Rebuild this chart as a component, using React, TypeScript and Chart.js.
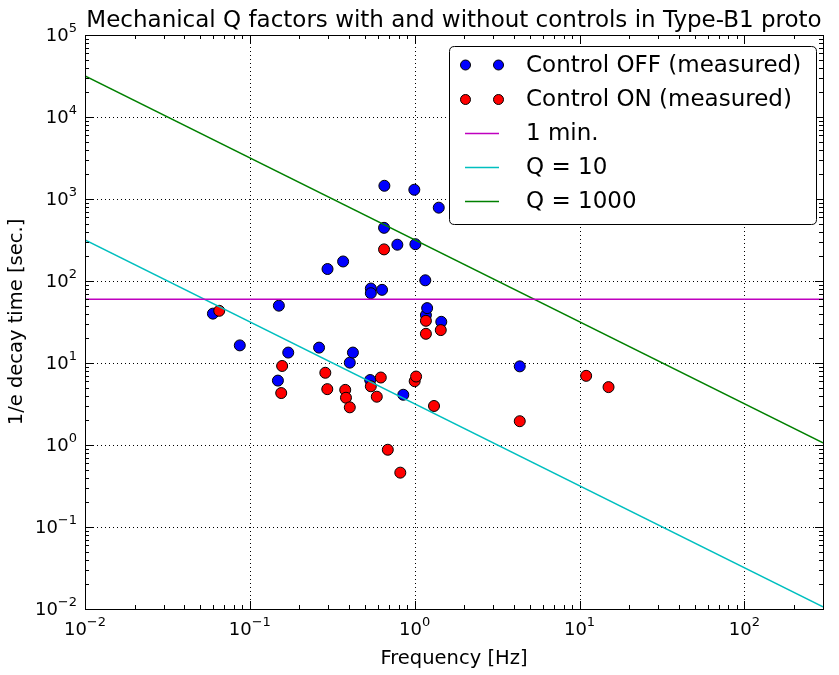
import React, { useEffect, useRef } from "react";
import { Chart, registerables } from "chart.js";
Chart.register(...registerables);

// Control OFF (measured)
const offFreq = [0.0597, 0.0869, 0.148, 0.150, 0.171, 0.263, 0.296, 0.368, 0.404, 0.422, 0.537, 0.542, 0.542, 0.634, 0.652, 0.655, 0.785, 0.853, 0.995, 1.01, 1.16, 1.17, 1.19, 1.40, 1.45, 4.34];
const offTau = [40, 16.4, 6.1, 50, 13.4, 15.4, 140, 173, 10.1, 13.4, 6.2, 81, 71, 78, 445, 1450, 277, 4.1, 1297, 281, 102, 38.4, 46.7, 784, 31.8, 9.1];
// Control ON (measured)
const onFreq = [0.0652, 0.155, 0.157, 0.287, 0.295, 0.379, 0.383, 0.404, 0.542, 0.589, 0.623, 0.652, 0.687, 0.818, 1.0, 1.02, 1.17, 1.17, 1.31, 1.44, 4.34, 10.97, 15.0];
const onTau = [43.3, 4.3, 9.2, 7.6, 4.8, 4.7, 3.77, 2.88, 5.2, 3.88, 6.65, 243, 0.875, 0.46, 6.0, 6.84, 32.7, 22.7, 2.99, 25.2, 1.95, 6.97, 5.08];
// Reference lines (end points)
const lineFreq = [0.01, 300];
const oneMinTau = [60, 60];
const q10Tau = [318, 0.0106];
const q1000Tau = [31800, 1.06];

const xTicks = [0.01, 0.1, 1, 10, 100];
const xTickExp = ["\u22122", "\u22121", "0", "1", "2"];
const yTicks = [1e-2, 1e-1, 1, 10, 100, 1e3, 1e4, 1e5];
const yTickExp = ["\u22122", "\u22121", "0", "1", "2", "3", "4", "5"];

const titleText = "Mechanical Q factors with and without controls in Type-B1 proto";
const xLabel = "Frequency [Hz]";
const yLabel = "1/e decay time [sec.]";
const legendLabels = ["Control OFF (measured)", "Control ON (measured)", "1 min.", "Q = 10", "Q = 1000"];

const FONT = "'DejaVu Sans', 'Liberation Sans', sans-serif";
const C_OFF = "#0000ff";
const C_ON = "#ff0000";
const C_MIN = "#bf00bf";
const C_Q10 = "#00bfbf";
const C_Q1000 = "#008000";

function pts(xs: number[], ys: number[]) {
  return xs.map((x, i) => ({ x, y: ys[i] }));
}

function minorValues(min: number, max: number) {
  const out: number[] = [];
  for (let e = Math.floor(Math.log10(min)); e <= Math.ceil(Math.log10(max)); e++) {
    for (let k = 1; k <= 9; k++) {
      const v = k * Math.pow(10, e);
      if (v >= min * 0.9999 && v <= max * 1.0001) out.push(v);
    }
  }
  return out;
}

const decorPlugin = {
  id: "decor",
  beforeDatasetsDraw(chart: any) {
    const { ctx, chartArea: a, scales } = chart;
    const xs = scales.x, ys = scales.y;
    ctx.save();
    ctx.strokeStyle = "#000";
    ctx.lineWidth = 1;
    ctx.setLineDash([1, 3]);
    for (const v of xTicks) {
      const px = Math.round(xs.getPixelForValue(v)) + 0.5;
      if (px <= a.left + 1 || px >= a.right - 1) continue;
      ctx.beginPath();
      ctx.moveTo(px, a.top);
      ctx.lineTo(px, a.bottom);
      ctx.stroke();
    }
    for (const v of yTicks) {
      const py = Math.round(ys.getPixelForValue(v)) + 0.5;
      if (py <= a.top + 1 || py >= a.bottom - 1) continue;
      ctx.beginPath();
      ctx.moveTo(a.left, py);
      ctx.lineTo(a.right, py);
      ctx.stroke();
    }
    ctx.restore();
  },
  afterDatasetsDraw(chart: any) {
    const { ctx, chartArea: a, scales } = chart;
    const xs = scales.x, ys = scales.y;
    ctx.save();
    ctx.setLineDash([]);
    ctx.strokeStyle = "#000";
    ctx.lineWidth = 1;
    // ticks inside on all sides
    const majX = new Set(xTicks.map((v) => v.toPrecision(6)));
    for (const v of minorValues(0.01, 300)) {
      const px = Math.round(xs.getPixelForValue(v)) + 0.5;
      const len = majX.has(v.toPrecision(6)) ? 8 : 4;
      ctx.beginPath();
      ctx.moveTo(px, a.bottom);
      ctx.lineTo(px, a.bottom - len);
      ctx.moveTo(px, a.top);
      ctx.lineTo(px, a.top + len);
      ctx.stroke();
    }
    const majY = new Set(yTicks.map((v) => v.toPrecision(6)));
    for (const v of minorValues(0.01, 1e5)) {
      const py = Math.round(ys.getPixelForValue(v)) + 0.5;
      const len = majY.has(v.toPrecision(6)) ? 8 : 4;
      ctx.beginPath();
      ctx.moveTo(a.left, py);
      ctx.lineTo(a.left + len, py);
      ctx.moveTo(a.right, py);
      ctx.lineTo(a.right - len, py);
      ctx.stroke();
    }
    // frame
    ctx.strokeRect(Math.round(a.left) + 0.5, Math.round(a.top) + 0.5, Math.round(a.right - a.left), Math.round(a.bottom - a.top));

    ctx.fillStyle = "#000";
    const baseFont = "18px " + FONT;
    const expFont = "13px " + FONT;
    // x tick labels
    ctx.textBaseline = "alphabetic";
    ctx.textAlign = "left";
    xTicks.forEach((v, i) => {
      const px = xs.getPixelForValue(v);
      ctx.font = baseFont;
      const w1 = ctx.measureText("10").width;
      ctx.font = expFont;
      const w2 = ctx.measureText(xTickExp[i]).width;
      const start = px - (w1 + w2) / 2;
      ctx.font = baseFont;
      ctx.fillText("10", start, a.bottom + 26);
      ctx.font = expFont;
      ctx.fillText(xTickExp[i], start + w1, a.bottom + 17);
    });
    // y tick labels
    yTicks.forEach((v, i) => {
      const py = ys.getPixelForValue(v);
      ctx.font = baseFont;
      const w1 = ctx.measureText("10").width;
      ctx.font = expFont;
      const w2 = ctx.measureText(yTickExp[i]).width;
      const right = a.left - 8;
      const start = right - w1 - w2;
      ctx.font = baseFont;
      ctx.fillText("10", start, py + 6);
      ctx.font = expFont;
      ctx.fillText(yTickExp[i], start + w1, py - 3);
    });
    // axis titles
    ctx.font = "19.5px " + FONT;
    ctx.textAlign = "center";
    ctx.textBaseline = "alphabetic";
    ctx.fillText(xLabel, (a.left + a.right) / 2, 664);
    ctx.save();
    ctx.translate(17, (a.top + a.bottom) / 2);
    ctx.rotate(-Math.PI / 2);
    ctx.textBaseline = "middle";
    ctx.fillText(yLabel, 0, 0);
    ctx.restore();
    // title
    ctx.font = "23px " + FONT;
    ctx.textAlign = "center";
    ctx.textBaseline = "alphabetic";
    ctx.fillText(titleText, (a.left + a.right) / 2, 27);

    // legend
    const L = 449.5, T = 46.5, R = 816.5, B = 224.5, rad = 5;
    ctx.beginPath();
    ctx.moveTo(L + rad, T);
    ctx.lineTo(R - rad, T);
    ctx.quadraticCurveTo(R, T, R, T + rad);
    ctx.lineTo(R, B - rad);
    ctx.quadraticCurveTo(R, B, R - rad, B);
    ctx.lineTo(L + rad, B);
    ctx.quadraticCurveTo(L, B, L, B - rad);
    ctx.lineTo(L, T + rad);
    ctx.quadraticCurveTo(L, T, L + rad, T);
    ctx.closePath();
    ctx.fillStyle = "#fff";
    ctx.fill();
    ctx.strokeStyle = "#000";
    ctx.lineWidth = 1;
    ctx.stroke();
    const rows = [65, 99.5, 133.5, 167.5, 201.5];
    const kinds: Array<[string, string]> = [["pt", C_OFF], ["pt", C_ON], ["ln", C_MIN], ["ln", C_Q10], ["ln", C_Q1000]];
    kinds.forEach(([k, c], i) => {
      const y = rows[i];
      if (k === "pt") {
        for (const x of [465.5, 498.5]) {
          ctx.beginPath();
          ctx.arc(x, y, 5, 0, Math.PI * 2);
          ctx.fillStyle = c;
          ctx.fill();
          ctx.strokeStyle = "#000";
          ctx.lineWidth = 1;
          ctx.stroke();
        }
      } else {
        ctx.beginPath();
        ctx.moveTo(465, y);
        ctx.lineTo(499, y);
        ctx.strokeStyle = c;
        ctx.lineWidth = 1.5;
        ctx.stroke();
      }
      ctx.fillStyle = "#000";
      ctx.font = "23px " + FONT;
      ctx.textAlign = "left";
      ctx.textBaseline = "middle";
      ctx.fillText(legendLabels[i], 526, y + 1);
    });
    ctx.restore();
  },
};

export default function App() {
  const ref = useRef<HTMLCanvasElement | null>(null);
  useEffect(() => {
    document.body.style.margin = "0";
    const canvas = ref.current;
    if (!canvas) return;
    const lineDs = (label: string, ys: number[], color: string) => ({
      type: "line" as const,
      label,
      data: pts(lineFreq, ys),
      borderColor: color,
      backgroundColor: color,
      borderWidth: 1.5,
      pointRadius: 0,
      showLine: true,
      fill: false,
      tension: 0,
      order: 0,
    });
    const chart = new Chart(canvas, {
      type: "scatter",
      data: {
        datasets: [
          {
            label: legendLabels[0],
            data: pts(offFreq, offTau),
            backgroundColor: C_OFF,
            borderColor: "#000",
            borderWidth: 1,
            pointRadius: 5.5,
            order: 2,
          },
          {
            label: legendLabels[1],
            data: pts(onFreq, onTau),
            backgroundColor: C_ON,
            borderColor: "#000",
            borderWidth: 1,
            pointRadius: 5.5,
            order: 1,
          },
          lineDs(legendLabels[2], oneMinTau, C_MIN),
          lineDs(legendLabels[3], q10Tau, C_Q10),
          lineDs(legendLabels[4], q1000Tau, C_Q1000),
        ] as any,
      },
      options: {
        responsive: false,
        animation: false,
        devicePixelRatio: 1,
        layout: { padding: { left: 85, top: 35, right: 16, bottom: 66 } },
        plugins: { legend: { display: false }, tooltip: { enabled: false }, title: { display: false } },
        scales: {
          x: { type: "logarithmic", min: 0.01, max: 300, display: false },
          y: { type: "logarithmic", min: 0.01, max: 1e5, display: false },
        },
      } as any,
      plugins: [decorPlugin],
    });
    return () => chart.destroy();
  }, []);
  return (
    <div style={{ position: "absolute", left: 0, top: 0, width: 839, height: 675, background: "#fff" }}>
      <canvas ref={ref} width={839} height={675} style={{ display: "block" }} />
    </div>
  );
}
